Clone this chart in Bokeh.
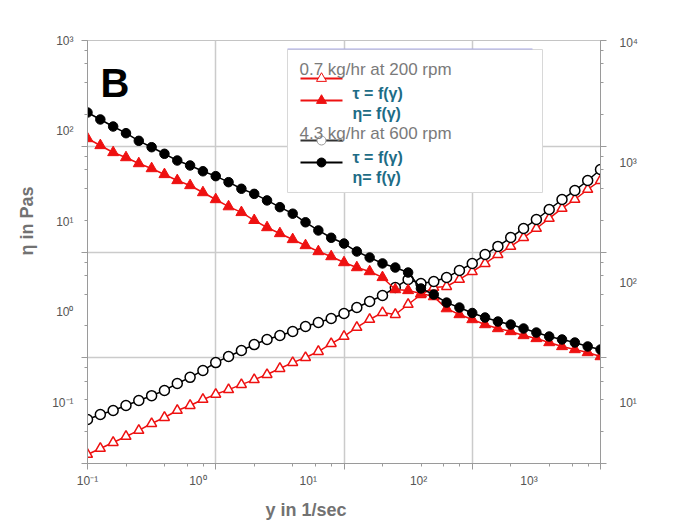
import math
from bokeh.plotting import figure
from bokeh.models import (Range1d, LogScale, LinearScale, LogAxis, Grid, LogTicker,
                          FixedTicker, Label, Title)
from bokeh.embed import file_html
from bokeh.resources import INLINE

# ---- data ----
shear_rate = [0.1, 0.1307, 0.1708, 0.2232, 0.2916, 0.3811, 0.4980, 0.6508, 0.8504, 1.111,
              1.452, 1.897, 2.480, 3.240, 4.234, 5.534, 7.231, 9.450, 12.35, 16.14,
              21.09, 27.56, 36.01, 47.06, 61.50, 80.35, 105.0, 137.2, 179.3, 234.3,
              306.2, 400.1, 522.9, 683.3, 892.9, 1167, 1525, 1992, 2604, 3403, 4446]

# viscosity eta (left axis)
eta_07 = [82.6, 69.2, 57.9, 50.9, 43.7, 38.5, 33.1, 28.4, 25.0, 20.9,
          17.5, 14.6, 12.6, 10.3, 8.58, 7.37, 6.33, 5.43, 4.66, 4.10,
          3.52, 3.10, 2.80, 2.41, 1.77, 1.73, 1.60, 1.48, 1.09, 0.938,
          0.826, 0.727, 0.657, 0.609, 0.550, 0.510, 0.460, 0.416, 0.385, 0.357, 0.322]
eta_43 = [160.1, 134.1, 112.1, 94.6, 77.9, 66.2, 56.0, 47.2, 41.6, 35.9,
          31.7, 27.2, 23.0, 20.2, 17.1, 14.4, 12.2, 9.8, 7.96, 6.61,
          5.71, 4.66, 4.00, 3.44, 3.10, 2.73, 1.82, 1.56, 1.27, 1.12,
          0.975, 0.869, 0.785, 0.727, 0.657, 0.593, 0.536, 0.497, 0.460, 0.416, 0.385]

# shear stress tau (right axis)
tau_07 = [3.69, 4.14, 4.64, 5.21, 5.85, 6.68, 7.50, 8.58, 9.44, 10.6,
          11.7, 12.8, 14.1, 15.5, 17.1, 19.2, 21.5, 23.7, 26.6, 31.0,
          35.5, 42.2, 49.2, 56.2, 54.1, 65.6, 79.4, 90.9, 92.6, 106,
          123, 144, 171, 200, 237, 282, 342, 414, 492, 596, 708]
tau_43 = [7.22, 7.94, 8.58, 9.44, 10.4, 11.4, 12.6, 14.4, 16.2, 18.5,
          21.5, 24.2, 27.1, 30.4, 33.5, 36.2, 39.1, 43.0, 46.4, 50.1,
          55.2, 61.9, 69.4, 77.9, 90.9, 106, 98.1, 102, 110, 126,
          144, 171, 200, 237, 282, 335, 406, 492, 584, 708, 874]

x_ticks = [0.1, 1, 10, 100, 1000]
x_tick_labels = ["10⁻¹", "10⁰", "10¹", "10²", "10³"]
eta_ticks = [0.1, 1, 10, 100, 1000]
eta_tick_labels = ["10⁻¹", "10⁰", "10¹", "10²", "10³"]
tau_ticks = [10, 100, 1000, 10000]
tau_tick_labels = ["10¹", "10²", "10³", "10⁴"]

group_labels = ["0.7 kg/hr at 200 rpm", "4.3 kg/hr at 600 rpm"]
item_labels = ["τ = f(γ)", "η= f(γ)"]
x_title = "y in 1/sec"
y_title = "η in Pas"
panel_letter = "B"

RED = "#ee1111"
BLACK = "#000000"
GRAY_TXT = "#727272"
TEAL = "#1d6c86"
FONT = "Liberation Sans"

FW, FH = 513, 423

p = figure(frame_width=FW, frame_height=FH,
           x_axis_type="log", y_axis_type="log",
           x_range=Range1d(0.1, 4446), y_range=Range1d(10 ** -1.674, 1000),
           x_axis_location=None, y_axis_location=None,
           toolbar_location=None, output_backend="svg",
           min_border_left=87, min_border_right=79, min_border_top=40, min_border_bottom=65,
           background_fill_color="white", border_fill_color="white",
           outline_line_color="#c4c4c4", outline_line_width=1)
p.grid.visible = False

p.extra_x_ranges = {"gx": Range1d(1, 1e4), "px": Range1d(0, FW)}
p.extra_x_scales = {"gx": LogScale(), "px": LinearScale()}
p.extra_y_ranges = {"tau": Range1d(10 ** 0.4917, 10 ** 4.0167),
                    "gy": Range1d(1, 1e4), "py": Range1d(FH, 0)}
p.extra_y_scales = {"tau": LogScale(), "gy": LogScale(), "py": LinearScale()}

AX = "#9a9a9a"


def tick_axis(**kw):
    return LogAxis(ticker=LogTicker(), major_label_text_font_size="1px",
                   major_label_text_color=None, major_label_standoff=0,
                   axis_line_color=AX, major_tick_line_color=AX, minor_tick_line_color=AX,
                   major_tick_out=6, major_tick_in=0, minor_tick_out=3, minor_tick_in=0, **kw)


def label_axis(ticks, labels, standoff, **kw):
    return LogAxis(ticker=FixedTicker(ticks=ticks, minor_ticks=[]),
                   major_label_overrides=dict(zip(ticks, labels)),
                   axis_line_color=None, major_tick_line_color=None, minor_tick_line_color=None,
                   major_tick_out=0, major_tick_in=0, minor_tick_out=0, minor_tick_in=0,
                   major_label_standoff=standoff, major_label_text_font_size="12px",
                   major_label_text_color="#555555", major_label_text_font=FONT, **kw)


bx = tick_axis(x_range_name="gx")
ly = tick_axis(y_range_name="gy")
ry = tick_axis(y_range_name="gy")
p.add_layout(bx, "below")
p.add_layout(ly, "left")
p.add_layout(ry, "right")
p.add_layout(label_axis(x_ticks, x_tick_labels, 4), "below")
p.add_layout(label_axis(eta_ticks, eta_tick_labels, 8), "left")
p.add_layout(label_axis(tau_ticks, tau_tick_labels, 13, y_range_name="tau"), "right")

p.add_layout(Title(text=x_title, align="left", offset=178, standoff=15, text_font=FONT,
                   text_font_size="18px", text_font_style="bold", text_color=GRAY_TXT), "below")
p.add_layout(Title(text=y_title, align="left", offset=208, standoff=26, text_font=FONT,
                   text_font_size="18px", text_font_style="bold", text_color=GRAY_TXT), "left")

p.add_layout(Grid(dimension=0, ticker=bx.ticker, x_range_name="gx",
                  grid_line_color="#cbcbcb", grid_line_width=1.5, level="underlay"))
p.add_layout(Grid(dimension=1, ticker=ly.ticker, y_range_name="gy",
                  grid_line_color="#cbcbcb", grid_line_width=1.5, level="underlay"))

# ---- series ----
p.line(shear_rate, tau_07, y_range_name="tau", line_color=RED, line_width=1.5)
p.scatter(shear_rate, tau_07, y_range_name="tau", marker="triangle", size=10,
          fill_color="white", line_color=RED, line_width=1.5)
p.line(shear_rate, tau_43, y_range_name="tau", line_color=BLACK, line_width=1.5)
p.scatter(shear_rate, tau_43, y_range_name="tau", marker="circle", size=10,
          fill_color="white", line_color=BLACK, line_width=1.5)
p.line(shear_rate, eta_07, line_color=RED, line_width=1.5)
p.scatter(shear_rate, eta_07, marker="triangle", size=11, fill_color=RED, line_color=RED)
p.line(shear_rate, eta_43, line_color=BLACK, line_width=1.5)
p.scatter(shear_rate, eta_43, marker="circle", size=9.5, fill_color=BLACK, line_color=BLACK)

# ---- legend (drawn by hand, frame pixel coords) ----
P = dict(x_range_name="px", y_range_name="py")
p.quad(left=[200], right=[455], top=[9], bottom=[152], fill_color="white",
       line_color="#d8d8d8", line_width=1, **P)
p.line([200, 445], [8.5, 8.5], line_color="#a9a9e4", line_width=1, **P)

p.line([213, 255], [38, 38], line_color=RED, line_width=2, **P)
p.scatter([234], [38], marker="triangle", size=10, fill_color="white", line_color=RED, **P)
p.line([213, 255], [60, 60], line_color=RED, line_width=2, **P)
p.scatter([234], [60], marker="triangle", size=10, fill_color=RED, line_color=RED, **P)
p.line([213, 255], [100, 100], line_color="#333333", line_width=2, **P)
p.scatter([234], [100], marker="circle", size=9, fill_color="white", line_color="#999999", **P)
p.line([213, 255], [122, 122], line_color=BLACK, line_width=2, **P)
p.scatter([234], [122], marker="circle", size=9, fill_color=BLACK, line_color=BLACK, **P)

for gi, gy0 in enumerate([29, 93]):
    p.add_layout(Label(x=212, y=gy0, text=group_labels[gi], text_font=FONT,
                       text_font_size="17px", text_color="#7a7a7a",
                       text_baseline="middle", **P))
    for ii, off in enumerate([24, 44]):
        p.add_layout(Label(x=265, y=gy0 + off, text=item_labels[ii], text_font=FONT,
                           text_font_size="16px", text_font_style="bold", text_color=TEAL,
                           text_baseline="middle", **P))

p.add_layout(Label(x=13, y=42, text=panel_letter, text_font=FONT, text_font_size="40px",
                   text_font_style="bold", text_color="black", text_baseline="alphabetic", **P))

open("out.html", "w").write(file_html(p, INLINE))
